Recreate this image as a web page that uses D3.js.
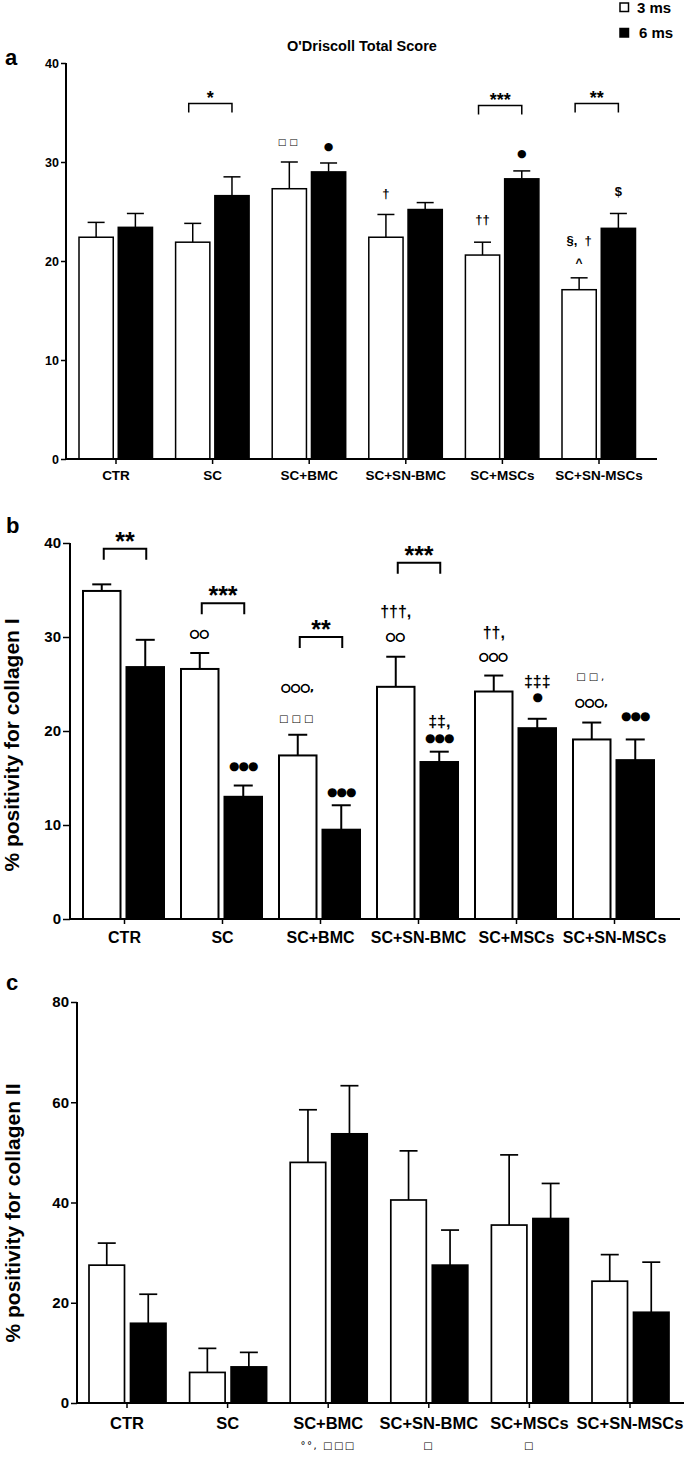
<!DOCTYPE html>
<html><head><meta charset="utf-8">
<script src="https://cdn.jsdelivr.net/npm/d3@7"></script>
<style>
body{margin:0;background:#fff}
svg{display:block}
text{font-family:"Liberation Sans",Arial,sans-serif;font-weight:bold;fill:#000}
.sym{font-family:"DejaVu Sans",sans-serif;font-weight:normal}
</style>
</head><body>
<svg id="chart" width="685" height="1457"></svg>
<script>
// ---------------- DATA ----------------
const categories = ["CTR","SC","SC+BMC","SC+SN-BMC","SC+MSCs","SC+SN-MSCs"];
const seriesNames = ["3 ms","6 ms"];

// Panel a: O'Driscoll Total Score (mean, SEM)
const scoreMean3 = [22.4, 21.9, 27.3, 22.4, 20.6, 17.1];
const scoreErr3  = [1.5, 1.9, 2.7, 2.3, 1.3, 1.2];
const scoreMean6 = [23.4, 26.6, 29.0, 25.2, 28.3, 23.3];
const scoreErr6  = [1.4, 1.9, 0.9, 0.7, 0.8, 1.5];
const scoreTicks = [0,10,20,30,40];

// Panel b: % positivity for collagen I
const col1Mean3 = [34.9, 26.6, 17.4, 24.7, 24.2, 19.1];
const col1Err3  = [0.7, 1.7, 2.2, 3.2, 1.7, 1.8];
const col1Mean6 = [26.8, 13.0, 9.5, 16.7, 20.3, 16.9];
const col1Err6  = [2.9, 1.2, 2.6, 1.1, 1.0, 2.2];
const col1Ticks = [0,10,20,30,40];

// Panel c: % positivity for collagen II
const col2Mean3 = [27.5, 6.1, 48.0, 40.5, 35.5, 24.3];
const col2Err3  = [4.4, 4.8, 10.5, 9.8, 14.0, 5.3];
const col2Mean6 = [15.9, 7.2, 53.7, 27.5, 36.8, 18.1];
const col2Err6  = [5.8, 2.9, 9.6, 7.0, 7.0, 10.0];
const col2Ticks = [0,20,40,60,80];

// significance brackets: category, label, level (data units)
const bracketsA = [
  {cat:"SC", label:"*", level:35.9},
  {cat:"SC+MSCs", label:"***", level:35.7},
  {cat:"SC+SN-MSCs", label:"**", level:35.9}
];
const bracketsB = [
  {cat:"CTR", label:"**", level:39.4},
  {cat:"SC", label:"***", level:33.6},
  {cat:"SC+BMC", label:"**", level:30.0},
  {cat:"SC+SN-BMC", label:"***", level:37.9}
];
// annotation symbols: category, series, text, level (data units), kind
const notesA = [
  {cat:"SC+BMC", s:"3 ms", t:"□□", level:32.0, kind:"sq"},
  {cat:"SC+BMC", s:"6 ms", t:"●", level:31.6, kind:"dot"},
  {cat:"SC+SN-BMC", s:"3 ms", t:"†", level:26.7, kind:"dag"},
  {cat:"SC+MSCs", s:"3 ms", t:"††", level:24.1, kind:"dag"},
  {cat:"SC+MSCs", s:"6 ms", t:"●", level:30.9, kind:"dot"},
  {cat:"SC+SN-MSCs", s:"3 ms", t:"§,\u00a0\u00a0†", level:22.0, kind:"dag"},
  {cat:"SC+SN-MSCs", s:"3 ms", t:"^", level:20.0, kind:"caret"},
  {cat:"SC+SN-MSCs", s:"6 ms", t:"$", level:26.9, kind:"dag"}
];
const notesB = [
  {cat:"SC", s:"3 ms", t:"○○", level:30.4, kind:"ring"},
  {cat:"SC", s:"6 ms", t:"●●●", level:16.3, kind:"dot"},
  {cat:"SC+BMC", s:"3 ms", t:"○○○,", level:24.6, kind:"ring"},
  {cat:"SC+BMC", s:"3 ms", t:"□□□", level:21.3, kind:"sq"},
  {cat:"SC+BMC", s:"6 ms", t:"●●●", level:13.5, kind:"dot"},
  {cat:"SC+SN-BMC", s:"3 ms", t:"†††,", level:32.6, kind:"dag"},
  {cat:"SC+SN-BMC", s:"3 ms", t:"○○", level:30.0, kind:"ring"},
  {cat:"SC+SN-BMC", s:"6 ms", t:"‡‡,", level:20.9, kind:"dag"},
  {cat:"SC+SN-BMC", s:"6 ms", t:"●●●", level:19.2, kind:"dot"},
  {cat:"SC+MSCs", s:"3 ms", t:"††,", level:30.4, kind:"dag"},
  {cat:"SC+MSCs", s:"3 ms", t:"○○○", level:27.9, kind:"ring"},
  {cat:"SC+MSCs", s:"6 ms", t:"‡‡‡", level:25.2, kind:"dag"},
  {cat:"SC+MSCs", s:"6 ms", t:"●", level:23.6, kind:"dot"},
  {cat:"SC+SN-MSCs", s:"3 ms", t:"□□,", level:25.7, kind:"sq"},
  {cat:"SC+SN-MSCs", s:"3 ms", t:"○○○,", level:23.0, kind:"ring"},
  {cat:"SC+SN-MSCs", s:"6 ms", t:"●●●", level:21.6, kind:"dot"}
];
// notes printed under the category axis of panel c
const notesCBelow = [
  {cat:"SC+BMC", t:"°°, □□□"},
  {cat:"SC+SN-BMC", t:"□"},
  {cat:"SC+MSCs", t:"□"}
];

// ---------------- LAYOUT / STYLE ----------------
const svg = d3.select("#chart");

const panels = [
  {letter:"a", letterX:5, letterY:57, letterSize:22,
   mean3:scoreMean3, err3:scoreErr3, mean6:scoreMean6, err6:scoreErr6, ticks:scoreTicks,
   yDomain:[0,40], y0:459, yTop:63, axisX:66, xEnd:657, xRange:[67.7,647.3],
   inner:[-37,36.5], gap:5, stroke:1.5, cap:17, tickLen:5, tickFont:12.5, catFont:13.5, catDy:16,
   title:"O'Driscoll Total Score", titleX:362, titleY:51,
   brackets:bracketsA, bracketInset:[-4,0], leg:9, starFont:18,
   notes:notesA,
   kinds:{sq:{size:9, ls:3, sym:true, dy:0.3, sw:0}, dot:{size:11, ls:0, sym:true, dy:0.33, sw:0},
          dag:{size:13, ls:0, sym:false, dy:0.28, sw:0}, caret:{size:12, ls:0, sym:false, dy:0.52, sw:0}}},
  {letter:"b", letterX:6, letterY:525, letterSize:22,
   mean3:col1Mean3, err3:col1Err3, mean6:col1Mean6, err6:col1Err6, ticks:col1Ticks,
   yDomain:[0,40], y0:919, yTop:543, axisX:70, xEnd:680, xRange:[75.5,663.5],
   inner:[-41.5,39.5], gap:6, stroke:2, cap:19, tickLen:7, tickFont:15, catFont:16, catDy:18,
   ylabel:"% positivity for collagen I", ylabelX:19, ylabelY:745, ylabelSize:21,
   brackets:bracketsB, bracketInset:[2,1], leg:11, starFont:25,
   notes:notesB,
   kinds:{sq:{size:10, ls:3, sym:true, dy:0.3, sw:0}, dot:{size:12, ls:-1, sym:true, dy:0.33, sw:0},
          dag:{size:16, ls:0, sym:false, dy:0.28, sw:0}, ring:{size:10.5, ls:0.5, sym:true, dy:0.33, sw:0.9}}},
  {letter:"c", letterX:6, letterY:982, letterSize:22,
   mean3:col2Mean3, err3:col2Err3, mean6:col2Mean6, err6:col2Err6, ticks:col2Ticks,
   yDomain:[0,80], y0:1403, yTop:1002, axisX:77, xEnd:684, xRange:[76.7,680.3],
   inner:[-38,39], gap:6, stroke:1.7, cap:18, tickLen:6, tickFont:15, catFont:16.5, catDy:19,
   ylabel:"% positivity for collagen II", ylabelX:20, ylabelY:1213, ylabelSize:21,
   brackets:[], notes:[], below:notesCBelow}
];

panels.forEach(drawPanel);

function drawPanel(p){
  const g = svg.append("g");
  const y = d3.scaleLinear().domain(p.yDomain).range([p.y0, p.yTop]);
  const x = d3.scaleBand().domain(categories).range(p.xRange).paddingInner(0).paddingOuter(0);
  const w = p.inner[1]-p.inner[0];
  const inner = d3.scaleBand().domain(seriesNames).range(p.inner).paddingInner(2*p.gap/(w+p.gap)).paddingOuter(0);
  const cx = c => x(c) + x.bandwidth()/2;
  const bx = (c,s) => cx(c) + inner(s) + inner.bandwidth()/2;

  const rows = [];
  categories.forEach((c,i)=>{
    rows.push({cat:c, s:"3 ms", v:p.mean3[i], e:p.err3[i]});
    rows.push({cat:c, s:"6 ms", v:p.mean6[i], e:p.err6[i]});
  });

  // error bars
  const eb = g.append("g").attr("stroke","#000").attr("stroke-width",p.stroke).attr("fill","none");
  rows.forEach(r=>{
    const xc = bx(r.cat,r.s);
    eb.append("line").attr("x1",xc).attr("x2",xc).attr("y1",y(r.v)).attr("y2",y(r.v+r.e));
    eb.append("line").attr("x1",xc-p.cap/2).attr("x2",xc+p.cap/2).attr("y1",y(r.v+r.e)).attr("y2",y(r.v+r.e));
  });

  // bars
  g.append("g").selectAll("rect").data(rows).join("rect")
    .attr("x", d=>cx(d.cat)+inner(d.s))
    .attr("width", inner.bandwidth())
    .attr("y", d=>y(d.v))
    .attr("height", d=>p.y0-y(d.v))
    .attr("fill", d=>d.s==="3 ms" ? "#fff" : "#000")
    .attr("stroke","#000").attr("stroke-width",p.stroke);

  // y axis
  const ya = g.append("g").attr("transform",`translate(${p.axisX},0)`)
    .call(d3.axisLeft(y).tickValues(p.ticks).tickSize(p.tickLen).tickSizeOuter(0).tickPadding(2));
  ya.select(".domain").attr("stroke-width",2).attr("d",`M0,${p.y0}V${p.yTop}`);
  ya.selectAll(".tick line").attr("stroke-width",1.5);
  ya.selectAll(".tick text").style("font-size",p.tickFont+"px").style("font-weight","bold")
    .style("font-family","'Liberation Sans',Arial,sans-serif");

  // x axis
  const xa = g.append("g").attr("transform",`translate(0,${p.y0})`)
    .call(d3.axisBottom(x).tickSize(5).tickSizeOuter(0).tickPadding(p.catDy-10));
  xa.select(".domain").attr("stroke-width",2).attr("d",`M${p.axisX-1},0H${p.xEnd}`);
  xa.selectAll(".tick line").attr("stroke-width",1.5);
  xa.selectAll(".tick text").style("font-size",p.catFont+"px").style("font-weight","bold")
    .style("font-family","'Liberation Sans',Arial,sans-serif");

  // panel letter
  g.append("text").attr("x",p.letterX).attr("y",p.letterY).attr("dy","0.35em")
    .style("font-size",p.letterSize+"px").text(p.letter);

  if(p.title){
    g.append("text").attr("x",p.titleX).attr("y",p.titleY).attr("text-anchor","middle")
      .style("font-size","14.5px").style("font-weight","bold")
      .style("font-family","'Liberation Sans',Arial,sans-serif")
      .text(p.title);
  }
  if(p.ylabel){
    g.append("text").attr("transform",`translate(${p.ylabelX},${p.ylabelY}) rotate(-90)`)
      .attr("text-anchor","middle").style("font-size",p.ylabelSize+"px").text(p.ylabel);
  }

  // brackets
  p.brackets.forEach(b=>{
    const x1 = bx(b.cat,"3 ms")+p.bracketInset[0];
    const x2 = bx(b.cat,"6 ms")+p.bracketInset[1];
    const yt = y(b.level);
    g.append("path").attr("d",`M${x1},${yt+p.leg}V${yt}H${x2}V${yt+p.leg}`)
      .attr("fill","none").attr("stroke","#000").attr("stroke-width",p.stroke);
    g.append("text").attr("x",(x1+x2)/2).attr("y",yt-2).attr("text-anchor","middle")
      .attr("dy","0.12em")
      .style("font-size",p.starFont+"px").text(b.label);
  });

  // annotation symbols
  p.notes.forEach(n=>{
    const k = p.kinds[n.kind];
    const t = g.append("text").attr("x",bx(n.cat,n.s)).attr("y",y(n.level))
      .attr("dy",k.dy+"em").attr("text-anchor","middle")
      .style("font-size",k.size+"px").style("letter-spacing",k.ls+"px")
      .style("white-space","pre").text(n.t);
    if(k.sym) t.attr("class","sym");
    if(k.sw) t.style("stroke","#000").style("stroke-width",k.sw);
  });

  if(p.below){
    p.below.forEach(n=>{
      g.append("text").attr("class","sym").attr("x",cx(n.cat)).attr("y",p.y0+46)
        .attr("text-anchor","middle").style("font-size","10px").style("letter-spacing","1.5px")
        .style("white-space","pre").text(n.t);
    });
  }
}

// legend
const legend = svg.append("g");
seriesNames.forEach((s,i)=>{
  legend.append("rect").attr("x",620).attr("y",3+i*25.5).attr("width",8.5).attr("height",8.5)
    .attr("fill", i===0 ? "#fff" : "#000").attr("stroke","#000").attr("stroke-width",1.5);
  legend.append("text").attr("x",i===0?637:639).attr("y",7.5+i*25.5).attr("dy","0.36em")
    .style("font-size","15px").text(s);
});
</script>
</body></html>
